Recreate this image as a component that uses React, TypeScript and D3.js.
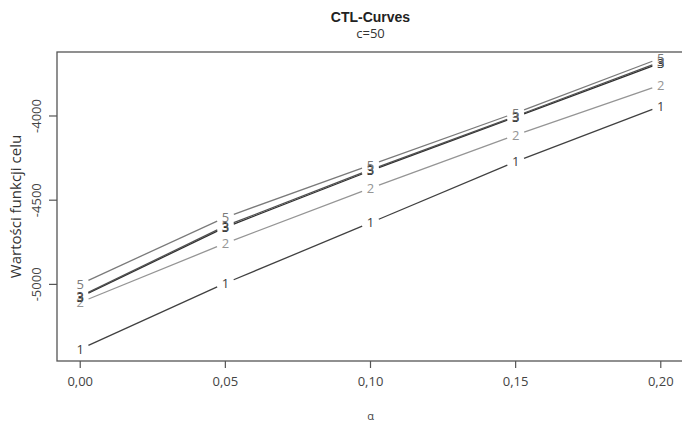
import React from "react";
import * as d3 from "d3";

const alphas = [0, 0.05, 0.1, 0.15, 0.2];
const seriesLabels = ["1", "2", "3", "3", "5"];
const seriesColors = ["#404040", "#959595", "#303030", "#505050", "#7a7a7a"];
const series1 = [-5384, -4993, -4634, -4271, -3941];
const series2 = [-5107, -4756, -4429, -4113, -3816];
const series3 = [-5075, -4661, -4325, -4006, -3685];
const series4 = [-5071, -4653, -4319, -4001, -3678];
const series5 = [-4998, -4602, -4291, -3982, -3656];
const seriesValues = [series1, series2, series3, series4, series5];
const xTicks = [0, 0.05, 0.1, 0.15, 0.2];
const xTickLabels = ["0,00", "0,05", "0,10", "0,15", "0,20"];
const yTicks = [-5000, -4500, -4000];
const yTickLabels = ["-5000", "-4500", "-4000"];

const W = 682;
const H = 422;
const left = 57;
const right = 684;
const top = 52;
const bottom = 361;

export default function App() {
  const x = d3.scaleLinear().domain([-0.008, 0.208]).range([left, right]);
  const y = d3.scaleLinear().domain([-5455, -3620]).range([bottom, top]);
  const gap = 9;
  const font = "'Open Sans', 'DejaVu Sans', sans-serif";

  return (
    <svg
      width={W}
      height={H}
      style={{ position: "absolute", left: 0, top: 0, background: "#fff" }}
    >
      {/* plot box */}
      <rect
        x={left}
        y={top}
        width={right - left}
        height={bottom - top}
        fill="none"
        stroke="#555"
        strokeWidth={1.3}
      />
      {/* x axis ticks */}
      {xTicks.map((t, i) => (
        <g key={"xt" + i}>
          <line x1={x(t)} x2={x(t)} y1={bottom} y2={bottom + 7} stroke="#555" strokeWidth={1.2} />
          <text
            x={x(t)}
            y={bottom + 25}
            textAnchor="middle"
            fontFamily={font}
            fontSize={13}
            fill="#444"
          >
            {xTickLabels[i]}
          </text>
        </g>
      ))}
      {/* y axis ticks */}
      {yTicks.map((t, i) => (
        <g key={"yt" + i}>
          <line x1={left - 8} x2={left} y1={y(t)} y2={y(t)} stroke="#555" strokeWidth={1.2} />
          <text
            transform={`translate(${left - 16},${y(t)}) rotate(-90)`}
            textAnchor="middle"
            fontFamily={font}
            fontSize={13}
            fill="#444"
          >
            {yTickLabels[i]}
          </text>
        </g>
      ))}
      {/* series: lines with gaps around the numbered points */}
      {seriesValues.map((vals, si) => {
        const pts = vals.map((v, i) => [x(alphas[i]), y(v)] as [number, number]);
        const segs = [];
        for (let i = 0; i < pts.length - 1; i++) {
          const [x0, y0] = pts[i];
          const [x1, y1] = pts[i + 1];
          const len = Math.hypot(x1 - x0, y1 - y0);
          const ux = (x1 - x0) / len;
          const uy = (y1 - y0) / len;
          segs.push(
            <line
              key={i}
              x1={x0 + ux * gap}
              y1={y0 + uy * gap}
              x2={x1 - ux * gap}
              y2={y1 - uy * gap}
              stroke={seriesColors[si]}
              strokeWidth={1.3}
            />
          );
        }
        return (
          <g key={"s" + si}>
            {segs}
            {pts.map(([px, py], i) => (
              <text
                key={"l" + i}
                x={px}
                y={py}
                dy="0.36em"
                textAnchor="middle"
                fontFamily={font}
                fontSize={13}
                fill={seriesColors[si]}
              >
                {seriesLabels[si]}
              </text>
            ))}
          </g>
        );
      })}
      {/* titles */}
      <text
        x={(left + right) / 2}
        y={22}
        textAnchor="middle"
        fontFamily="'Liberation Sans', Arial, sans-serif"
        fontWeight="bold"
        fontSize={14}
        fill="#222"
      >
        CTL-Curves
      </text>
      <text
        x={(left + right) / 2}
        y={38}
        textAnchor="middle"
        fontFamily={font}
        fontSize={13}
        fill="#333"
      >
        c=50
      </text>
      <text
        transform={`translate(21,${(top + bottom) / 2}) rotate(-90)`}
        textAnchor="middle"
        fontFamily={font}
        fontSize={15}
        fill="#333"
      >
        Wartości funkcji celu
      </text>
      <text
        x={(left + right) / 2}
        y={420}
        textAnchor="middle"
        fontFamily={font}
        fontSize={11}
        fill="#444"
      >
        α
      </text>
    </svg>
  );
}
